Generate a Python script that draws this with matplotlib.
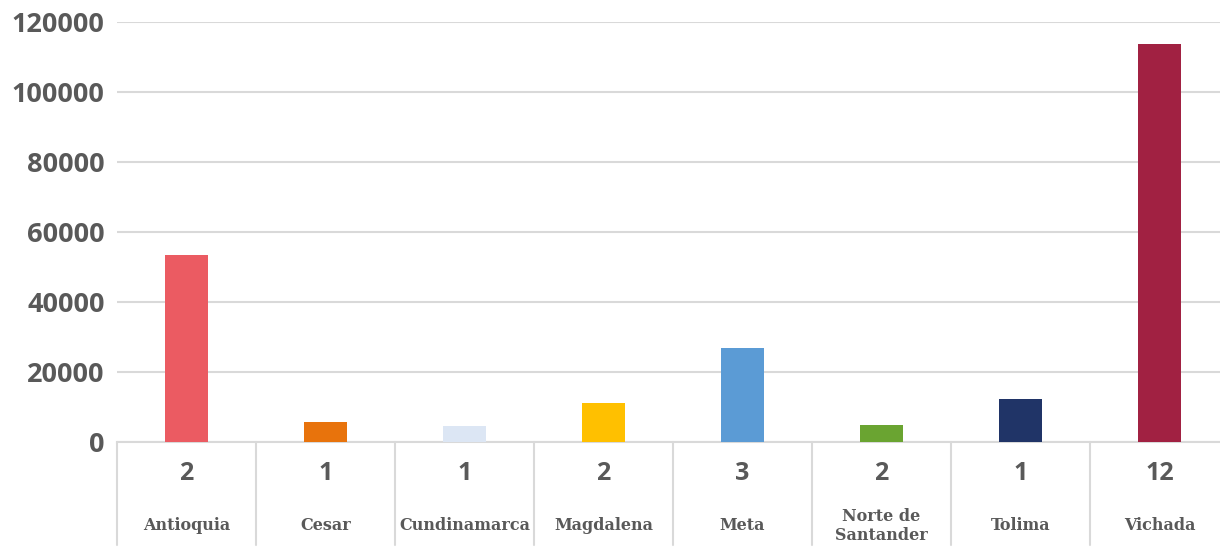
import matplotlib
matplotlib.use("Agg")
import matplotlib.pyplot as plt
from matplotlib.transforms import blended_transform_factory, offset_copy

# data
departamentos = ["Antioquia", "Cesar", "Cundinamarca", "Magdalena", "Meta",
                 "Norte de\nSantander", "Tolima", "Vichada"]
conteos = ["2", "1", "1", "2", "3", "2", "1", "12"]
valores = [53500, 5700, 4600, 11100, 26900, 4900, 12300, 113700]
colores = ["#EB5B62", "#E8730C", "#DCE6F4", "#FFC000", "#5B9BD5",
           "#6AA431", "#203467", "#A12142"]
y_ticks = [0, 20000, 40000, 60000, 80000, 100000, 120000]

gris = "#595959"
linea = "#D9D9D9"

fig = plt.figure(figsize=(12.2, 5.5), dpi=100)
# the last category runs a little past the right edge, as in the original
ax = fig.add_axes([117 / 1220, 108 / 550, 1112 / 1220, 420 / 550])

x = list(range(len(valores)))
ax.bar(x, valores, width=0.31, color=colores, zorder=3)

ax.set_xlim(-0.5, len(valores) - 0.5)
ax.set_ylim(0, 120000)
ax.set_yticks(y_ticks)
ax.set_yticklabels([str(v) for v in y_ticks], fontsize=19.5, fontweight="bold",
                   color=gris, family="Open Sans")
ax.tick_params(axis="y", length=0, pad=9)
ax.set_xticks([])
ax.grid(axis="y", color=linea, linewidth=1.5, zorder=0)
for s in ["top", "right", "left"]:
    ax.spines[s].set_visible(False)
ax.spines["bottom"].set_color(linea)
ax.spines["bottom"].set_linewidth(1.5)

# multi-level category axis: separators below the baseline
trans = blended_transform_factory(ax.transData, ax.transAxes)
abajo = offset_copy(trans, fig=fig, x=0, y=-103, units="dots")
for i in range(len(valores) + 1):
    ax.annotate("", xy=(i - 0.5, 0), xycoords=trans,
                xytext=(i - 0.5, 0), textcoords=abajo,
                arrowprops=dict(arrowstyle="-", color=linea, lw=1.5,
                                shrinkA=0, shrinkB=0),
                annotation_clip=False)

for i, (n, d) in enumerate(zip(conteos, departamentos)):
    ax.annotate(n, xy=(i, 0), xycoords=trans, xytext=(0, -31),
                textcoords="offset pixels", ha="center", va="center",
                fontsize=18, fontweight="bold", color=gris, family="Open Sans",
                annotation_clip=False)
    ax.annotate(d, xy=(i, 0), xycoords=trans, xytext=(0, -84),
                textcoords="offset pixels", ha="center", va="center",
                fontsize=11.5, fontweight="bold", color=gris,
                family="DejaVu Serif", linespacing=1.1,
                annotation_clip=False)

fig.savefig("out.png", dpi=100)
